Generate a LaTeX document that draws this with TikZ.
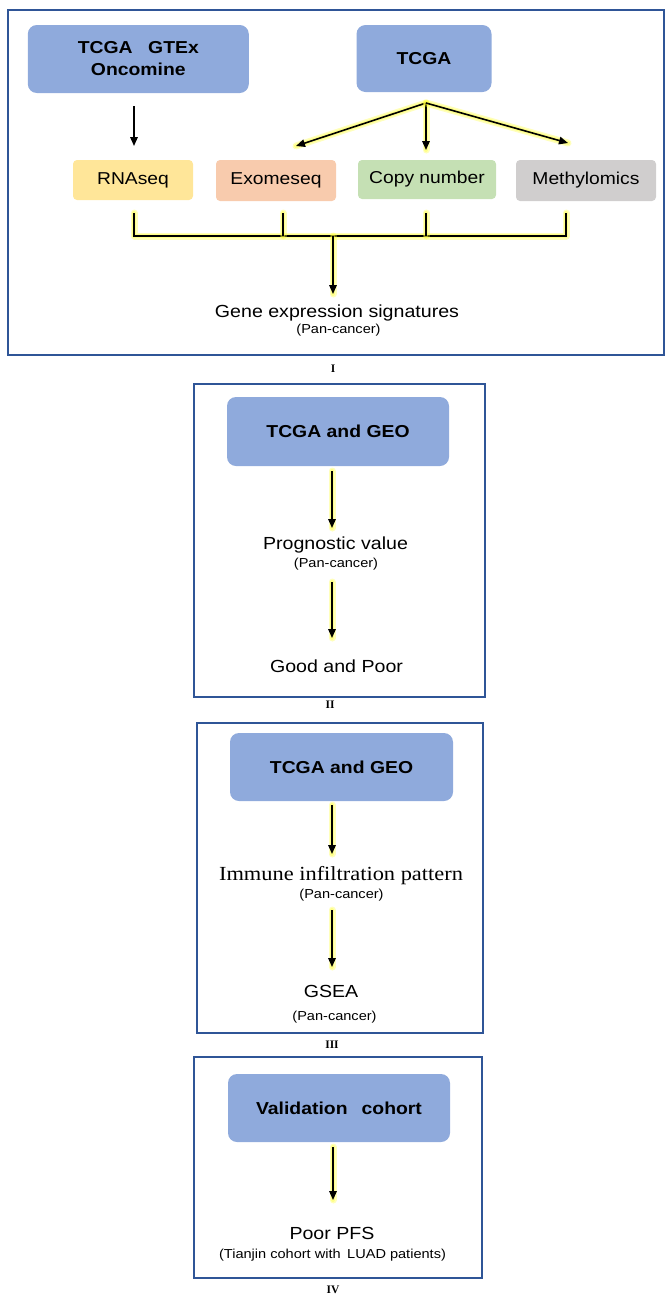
\documentclass[tikz,border=0pt]{standalone}
\usepackage{fontspec}
\setmainfont{Liberation Sans}[FakeStretch=1.12]
\newfontfamily\serifst{Liberation Serif}[FakeStretch=1.12]
\newfontfamily\serifnum{Liberation Serif}
\usetikzlibrary{arrows.meta}
\definecolor{framec}{HTML}{2F5597}
\definecolor{bluec}{HTML}{8FAADC}
\definecolor{yelc}{HTML}{FFE699}
\definecolor{orac}{HTML}{F8CBAD}
\definecolor{grnc}{HTML}{C5E0B4}
\definecolor{gryc}{HTML}{D0CECE}
\definecolor{glowc}{HTML}{FFFF3C}
\tikzset{
  frame/.style={draw=framec, line width=2.5pt},
  bluebox/.style={fill=bluec, draw=none, rounded corners=9pt, inner sep=0pt, align=center,
    font=\fontsize{17.3}{22}\selectfont\bfseries},
  smallbox/.style={draw=none, rounded corners=4pt, inner sep=0pt, align=center,
    font=\fontsize{17.2}{20}\selectfont},
  maintext/.style={anchor=base, inner sep=0pt, font=\fontsize{17.5}{20}\selectfont},
  subtext/.style={anchor=base, inner sep=0pt, font=\fontsize{13}{15}\selectfont},
  numtext/.style={anchor=base, inner sep=0pt, font=\fontsize{11.5}{13}\serifnum\bfseries},
  glow/.style={preaction={draw=glowc, line width=7pt, opacity=0.35, -, line cap=round, line join=round},
    preaction={draw=glowc, line width=4pt, opacity=0.4, -, line cap=round, line join=round}},
  arr/.style={draw=black, line width=1.6pt, -{Triangle[length=9pt,width=7.5pt]}},
  bus/.style={draw=black, line width=1.6pt, glow}
}
\begin{document}
\begin{tikzpicture}[x=1pt,y=-1pt]
\useasboundingbox (0,0) rectangle (666,1294);
% ---------- Panel I ----------
\draw[frame] (8,10) rectangle (664,355);
\node[bluebox, minimum width=221pt, minimum height=68pt] (src1) at (138.3,59) {TCGA\hspace{0.9em}GTEx\\Oncomine};
\node[bluebox, minimum width=135pt, minimum height=67pt] (src2) at (424,58.5) {TCGA};
\node[smallbox, fill=yelc, minimum width=120pt, minimum height=40pt] (rna) at (133,180) {RNAseq};
\node[smallbox, fill=orac, minimum width=120pt, minimum height=41pt] (exo) at (276,180.5) {Exomeseq};
\node[smallbox, fill=grnc, minimum width=138pt, minimum height=39pt] (cnv) at (427,179.5) {Copy number};
\node[smallbox, fill=gryc, minimum width=140pt, minimum height=41pt] (met) at (586,180.5) {Methylomics};
\coordinate (a1s) at (134,106);
\coordinate (a1e) at (134,146);
\draw[arr] (a1s) -- (a1e);
\coordinate (split) at (426,103);
\coordinate (e1) at (296,146);
\coordinate (e2) at (426,150);
\coordinate (e3) at (568,143);
\draw[arr, glow] (split) -- (e1);
\draw[arr, glow] (split) -- (e2);
\draw[arr, glow] (split) -- (e3);
\coordinate (v1) at (134,213); \coordinate (b1) at (134,236);
\coordinate (v2) at (283,213); \coordinate (b2) at (283,236);
\coordinate (v3) at (426,213); \coordinate (b3) at (426,236);
\coordinate (v4) at (566,213); \coordinate (b4) at (566,236);
\draw[bus] (v1) -- (b1) -- (b4) -- (v4);
\draw[bus] (v2) -- (b2);
\draw[bus] (v3) -- (b3);
\coordinate (bm) at (333,236);
\coordinate (bme) at (333,294);
\draw[arr, glow] (bm) -- (bme);
\node[maintext] (ges) at (337,317) {Gene expression signatures};
\node[subtext] (ges2) at (338.5,333) {(Pan-cancer)};
\node[numtext] (n1) at (333,372) {I};
% ---------- Panel II ----------
\draw[frame] (194,384) rectangle (485,697);
\node[bluebox, minimum width=222pt, minimum height=69pt] (tg2) at (338,431.5) {TCGA and GEO};
\coordinate (p2a) at (332,471); \coordinate (p2b) at (332,528);
\draw[arr, glow] (p2a) -- (p2b);
\node[maintext] (prog) at (335.5,549) {Prognostic value};
\node[subtext] (prog2) at (336,567) {(Pan-cancer)};
\coordinate (p2c) at (332,582); \coordinate (p2d) at (332,638);
\draw[arr, glow] (p2c) -- (p2d);
\node[maintext] (gp) at (336.5,672) {Good and Poor};
\node[numtext] (n2) at (330,708) {II};
% ---------- Panel III ----------
\draw[frame] (197,723) rectangle (483,1033);
\node[bluebox, minimum width=223pt, minimum height=68pt] (tg3) at (341.5,767) {TCGA and GEO};
\coordinate (p3a) at (332,805); \coordinate (p3b) at (332,854);
\draw[arr, glow] (p3a) -- (p3b);
\node[anchor=base, inner sep=0pt, font=\fontsize{20}{22}\serifst] (imm) at (341,880) {Immune infiltration pattern};
\node[subtext] (imm2) at (341.5,898) {(Pan-cancer)};
\coordinate (p3c) at (332,910); \coordinate (p3d) at (332,967);
\draw[arr, glow] (p3c) -- (p3d);
\node[maintext] (gsea) at (331,997) {GSEA};
\node[subtext] (gsea2) at (334.5,1020) {(Pan-cancer)};
\node[numtext] (n3) at (332,1048) {III};
% ---------- Panel IV ----------
\draw[frame] (194,1057) rectangle (482,1278);
\node[bluebox, minimum width=222pt, minimum height=68pt] (val) at (339,1108) {Validation\hspace{0.5em} cohort};
\coordinate (p4a) at (333,1147); \coordinate (p4b) at (333,1200);
\draw[arr, glow] (p4a) -- (p4b);
\node[maintext] (pfs) at (332,1239) {Poor PFS};
\node[subtext] (pfs2) at (332.5,1258) {(Tianjin cohort with\hspace{0.5em}LUAD patients)};
\node[numtext] (n4) at (333,1293) {IV};
\end{tikzpicture}
\end{document}
